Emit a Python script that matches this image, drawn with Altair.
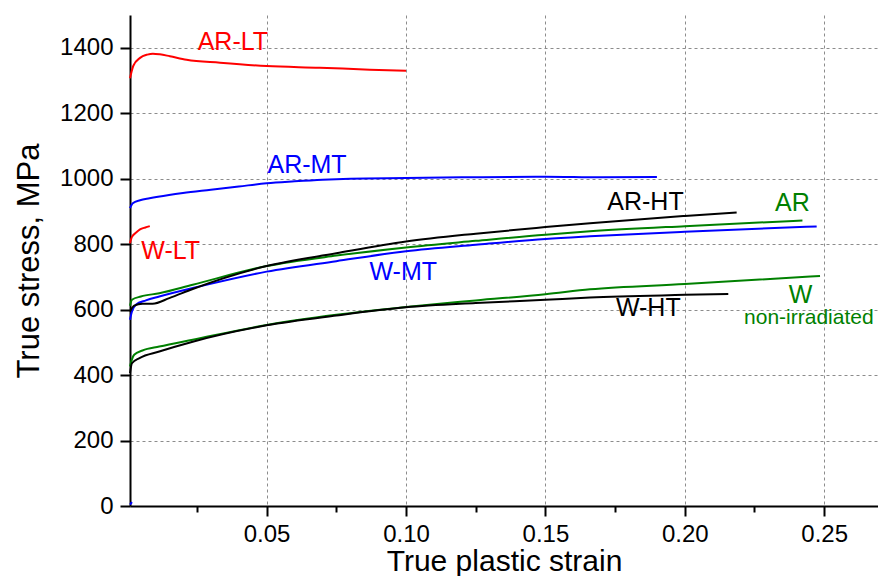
import altair as alt
import pandas as pd

# ---- data ----
ar_lt_x = [0.001, 0.0022, 0.0046, 0.0072, 0.0092, 0.0117, 0.0153, 0.0213, 0.0333, 0.05, 0.069, 0.087, 0.100]
ar_lt_y = [1307, 1345, 1369, 1379, 1382, 1380, 1374, 1363, 1354, 1344, 1339, 1333, 1330]

w_lt_x = [0.001, 0.0017, 0.0033, 0.0046, 0.0065, 0.0081]
w_lt_y = [803, 822, 836, 845, 851, 855]

ar_mt_x = [0.001, 0.002, 0.0046, 0.008, 0.015, 0.02, 0.03, 0.04, 0.05, 0.06, 0.07, 0.08, 0.10, 0.12, 0.15, 0.17, 0.19]
ar_mt_y = [910, 925, 934, 940, 950, 956, 966, 976, 986, 992, 997, 1000, 1002, 1004, 1006, 1004, 1005]

ar_x = [0.001, 0.0017, 0.0049, 0.0115, 0.0235, 0.05, 0.075, 0.10, 0.125, 0.15, 0.166, 0.20, 0.2422]
ar_y = [612, 630, 640, 650, 676, 733, 765, 790, 810, 829, 839, 855, 872]

w_mt_x = [0.001, 0.0017, 0.0031, 0.0067, 0.0115, 0.026, 0.05, 0.075, 0.10, 0.125, 0.15, 0.166, 0.20, 0.2473]
w_mt_y = [569, 594, 615, 628, 640, 671, 716, 748, 778, 798, 816, 824, 838, 854]

ar_ht_x = [0.001, 0.0025, 0.0055, 0.0091, 0.0151, 0.0235, 0.05, 0.075, 0.10, 0.125, 0.15, 0.166, 0.20, 0.2186]
ar_ht_y = [594, 612, 618, 618, 635, 663, 733, 772, 808, 832, 852, 864, 886, 897]

w_x = [0.001, 0.0017, 0.0025, 0.0055, 0.0115, 0.0235, 0.05, 0.075, 0.10, 0.125, 0.15, 0.166, 0.20, 0.2485]
w_y = [426, 448, 462, 475, 487, 508, 553, 584, 608, 628, 647, 662, 678, 703]

w_ht_x = [0.001, 0.0017, 0.0044, 0.0115, 0.0235, 0.05, 0.075, 0.10, 0.125, 0.15, 0.166, 0.20, 0.2156]
w_ht_y = [406, 436, 452, 472, 502, 552, 582, 607, 620, 630, 637, 645, 648]

stub_x = [0.001, 0.0017]
stub_y = [4, 12]

series_names = ["AR-LT", "W-LT", "AR-MT", "AR", "W-MT", "AR-HT", "W", "W-HT", "stub"]
series_colors = ["#ff0000", "#ff0000", "#0000ff", "#008000", "#0000ff", "#000000", "#008000", "#000000", "#0000ff"]
series_x = [ar_lt_x, w_lt_x, ar_mt_x, ar_x, w_mt_x, ar_ht_x, w_x, w_ht_x, stub_x]
series_y = [ar_lt_y, w_lt_y, ar_mt_y, ar_y, w_mt_y, ar_ht_y, w_y, w_ht_y, stub_y]

label_texts = ["AR-LT", "AR-MT", "W-LT", "AR-HT", "AR", "W-MT", "W-HT", "W"]
label_x = [0.0379, 0.0645, 0.0156, 0.1859, 0.2386, 0.0990, 0.1869, 0.2415]
label_y = [1419, 1043, 778, 930, 926, 716, 604, 645]
label_colors = ["#ff0000", "#0000ff", "#ff0000", "#000000", "#008000", "#0000ff", "#000000", "#008000"]

note_text = ["non-irradiated"]
note_x = [0.2445]
note_y = [574]

# major and minor tick values
x_ticks = [0.025, 0.05, 0.075, 0.10, 0.125, 0.15, 0.175, 0.20, 0.225, 0.25]
y_ticks = [0, 100, 200, 300, 400, 500, 600, 700, 800, 900, 1000, 1100, 1200, 1300, 1400, 1500]

# ---- build tables ----
rows = []
for name, xs, ys in zip(series_names, series_x, series_y):
    for i, (a, b) in enumerate(zip(xs, ys)):
        rows.append({"series": name, "strain": a, "stress": b, "i": i})
lines_df = pd.DataFrame(rows)

labels_df = pd.DataFrame({"strain": label_x, "stress": label_y, "text": label_texts, "color": label_colors})
note_df = pd.DataFrame({"strain": note_x, "stress": note_y, "text": note_text})

xscale = alt.Scale(domain=[0.001, 0.2693], nice=False, zero=False)
yscale = alt.Scale(domain=[0, 1500], nice=False)

x_minor_test = "round(datum.value * 40) % 2 == 1"
y_minor_test = "round(datum.value) % 200 == 100"

xaxis = alt.Axis(
    values=x_ticks, format=".2f", title="True plastic strain", orient="bottom",
    grid=True, labelPadding=6, titlePadding=1, titleY=40, titleFontSize=30,
    labelExpr=f"{x_minor_test} ? '' : datum.label",
    tickSize={"condition": {"test": x_minor_test, "value": 6}, "value": 10},
    gridOpacity={"condition": {"test": x_minor_test, "value": 0}, "value": 1},
)
yaxis = alt.Axis(
    values=y_ticks, format="d", title="True stress, MPa", orient="left",
    grid=True, labelPadding=7, titlePadding=14,
    labelExpr=f"{y_minor_test} ? '' : datum.label",
    tickSize={"condition": {"test": y_minor_test, "value": 6}, "value": 10},
    gridOpacity={"condition": {"test": f"{y_minor_test} || datum.value == 0", "value": 0}, "value": 1},
)

lines = alt.Chart(lines_df).mark_line(strokeWidth=2, interpolate="monotone").encode(
    x=alt.X("strain:Q", scale=xscale, axis=xaxis),
    y=alt.Y("stress:Q", scale=yscale, axis=yaxis),
    color=alt.Color("series:N", scale=alt.Scale(domain=series_names, range=series_colors), legend=None),
    order="i:Q",
)

labels = alt.Chart(labels_df).mark_text(fontSize=25, font="Liberation Sans", align="center", baseline="middle").encode(
    x=alt.X("strain:Q", scale=xscale),
    y=alt.Y("stress:Q", scale=yscale),
    text="text:N",
    color=alt.Color("color:N", scale=None),
)

note = alt.Chart(note_df).mark_text(fontSize=21, font="Liberation Sans", align="center", baseline="middle",
                                     color="#008000").encode(
    x=alt.X("strain:Q", scale=xscale),
    y=alt.Y("stress:Q", scale=yscale),
    text="text:N",
)

chart = alt.layer(lines, labels, note).properties(
    width=748, height=491,
    autosize=alt.AutoSizeParams(type="none"),
    padding={"left": 122, "top": 7, "right": 0, "bottom": 70},
).configure_view(stroke=None).configure_axis(
    labelFont="Liberation Sans", titleFont="Liberation Sans",
    labelFontSize=24, titleFontSize=31, titleFontWeight="normal",
    labelColor="black", titleColor="black",
    domainColor="black", domainWidth=2, tickColor="black", tickWidth=2,
    gridColor="#8c8c8c", gridDash=[3, 3], gridWidth=1,
)

chart.save("out.html", embed_options={"renderer": "svg", "actions": False})
